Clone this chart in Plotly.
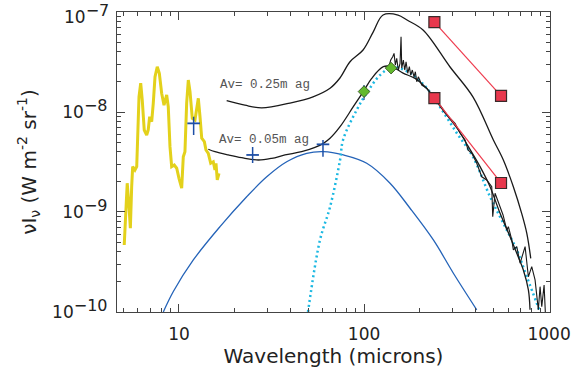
import numpy as np
import plotly.graph_objects as go

# yellow mid-IR spectrum
spec_wl = [5.06, 5.11, 5.25, 5.37, 5.46, 5.55, 5.62, 5.78, 5.91, 6.08, 6.21, 6.33, 6.49, 6.69, 6.82,
           6.94, 7.12, 7.26, 7.42, 7.63, 7.83, 8.06, 8.30, 8.58, 8.75, 8.94, 9.13, 9.43, 9.72, 10.0,
           10.34, 10.55, 10.77, 11.0, 11.23, 11.47, 11.80, 12.2, 12.46, 12.72, 12.99, 13.27, 13.71,
           13.99, 14.40, 14.84, 15.32, 15.65, 15.85, 16.1, 16.45]
spec_flux = [4.68e-10, 7.13e-10, 1.94e-9, 1.13e-9, 6.87e-10, 1.79e-9, 2.84e-9, 2.63e-9, 2.84e-9,
             1.42e-8, 1.94e-8, 1.32e-8, 6.61e-9, 5.89e-9, 6.61e-9, 8.97e-9, 8.0e-9, 1.22e-8, 2.25e-8,
             2.84e-8, 2.44e-8, 1.54e-8, 1.17e-8, 1.48e-8, 1.13e-8, 4.5e-9, 2.84e-9, 2.95e-9, 2.74e-9,
             2.17e-9, 1.73e-9, 3.57e-9, 4.01e-9, 1.22e-8, 2.09e-8, 1.6e-8, 8.65e-9, 8.32e-9, 1.13e-8,
             1.37e-8, 8.97e-9, 5.46e-9, 5.05e-9, 4.17e-9, 3.86e-9, 3.07e-9, 3.18e-9, 2.63e-9, 3.07e-9,
             2.09e-9, 2.44e-9]

# model Av=0.25 mag
m25_wl = [18.1, 22.7, 28.0, 39.8, 53.0, 65.5, 74.1, 84.0, 98.8, 112, 126.7, 152.7, 170.8, 208.4,
          291.7, 388.4, 500, 566, 641, 711, 758, 796]
m25_flux = [1.30e-8, 1.17e-8, 1.10e-8, 1.23e-8, 1.42e-8, 1.73e-8, 2.19e-8, 3.18e-8, 4.17e-8, 6.3e-8,
            9.33e-8, 9.33e-8, 8.32e-8, 6.61e-8, 2.82e-8, 1.41e-8, 5.25e-9, 3.31e-9, 1.79e-9, 9.7e-10,
            6.12e-10, 3.44e-10]

# model Av=0.05 mag
m05_wl = [14.4, 15.65, 18.48, 21.83, 26.83, 31.7, 37.4, 46.0, 54.3, 60.3, 65.5, 74.2, 87.5, 99.1,
          110, 127.2, 141.2, 162.5, 188.7, 213.6, 242, 285.6, 323.4, 366.3, 423.6, 479.8, 543.4,
          615.5, 669, 726, 773, 789]
m05_flux = [4.24e-9, 4.01e-9, 3.72e-9, 3.49e-9, 3.31e-9, 3.44e-9, 3.72e-9, 4.01e-9, 4.43e-9, 4.86e-9,
            5.46e-9, 7.13e-9, 1.13e-8, 1.60e-8, 2.17e-8, 2.84e-8, 2.84e-8, 2.45e-8, 2.17e-8, 1.79e-8,
            1.37e-8, 8.97e-9, 6.61e-9, 4.5e-9, 2.84e-9, 1.79e-9, 9.7e-10, 5.66e-10, 3.86e-10,
            2.63e-10, 1.66e-10, 1.05e-10]

# big grain (dotted cyan)
bg_wl = [49.8, 57.8, 65.5, 74.2, 77.0, 91.3, 103.4, 122, 141.2, 150.7, 184, 218, 257.6, 317, 388,
         479.8, 566, 669, 758, 894]
bg_flux = [1e-10, 5.25e-10, 1.12e-9, 3.31e-9, 5.25e-9, 1.05e-8, 1.55e-8, 2.34e-8, 2.82e-8, 2.82e-8,
           2.34e-8, 1.74e-8, 1.12e-8, 6.17e-9, 3.55e-9, 1.42e-9, 7.7e-10, 4.17e-10, 2.25e-10, 1.0e-10]

# very small grain (blue)
vsg_wl = [8.23, 9.32, 11.95, 16.66, 23.22, 29.8, 38.2, 49.0, 60.3, 77.3, 103.4, 138.2, 177.3, 237,
          304, 406.6]
vsg_flux = [1.0e-10, 1.6e-10, 3.31e-10, 7.13e-10, 1.42e-9, 2.25e-9, 3.18e-9, 3.86e-9, 4.01e-9,
            3.72e-9, 3.07e-9, 1.94e-9, 1.09e-9, 5.25e-10, 2.44e-10, 1.05e-10]

# far-IR spectrum (noisy black)
fir_wl = [135.3, 139.4, 142.9, 145.3, 147.6, 150.2, 153.2, 156.5, 158.5, 159.9, 163.1, 166, 168.7,
          172.3, 175.8, 178.8, 182.4, 186.3, 189.4, 192.7, 196.6, 205.1, 218.3, 232.3, 274, 310.4,
          330, 351.6, 365, 382.1, 406.6, 432.7, 460.4, 490, 496, 510.7, 543.4, 564, 590.6, 602.6,
          628.6, 641.2, 669, 697, 742, 773, 806, 840, 875, 894, 913, 940, 964]
fir_flux = [2.74e-8, 3.31e-8, 3.57e-8, 3.86e-8, 2.95e-8, 3.44e-8, 2.63e-8, 3.07e-8, 5.66e-8, 2.74e-8,
            3.31e-8, 2.63e-8, 3.18e-8, 2.44e-8, 2.84e-8, 2.34e-8, 2.63e-8, 2.25e-8, 2.53e-8, 2.01e-8,
            2.25e-8, 1.86e-8, 1.73e-8, 1.48e-8, 9.77e-9, 7.7e-9, 6.17e-9, 5.25e-9, 4.17e-9, 3.86e-9,
            3.07e-9, 2.25e-9, 2.09e-9, 1.79e-9, 8.97e-10, 1.54e-9, 1.13e-9, 9.33e-10, 6.61e-10,
            7.13e-10, 5.25e-10, 4.17e-10, 4.5e-10, 3.07e-10, 4.5e-10, 2.25e-10, 2.84e-10, 2.09e-10,
            1.05e-10, 1.79e-10, 1.13e-10, 1.86e-10, 6.6e-11]

# IRAS points
iras_wl = [12, 25, 60]
iras_flux = [7.7e-9, 3.72e-9, 4.75e-9]
iras_hi = [8.97e-9, 4.47e-9, 5.25e-9]
iras_lo = [5.89e-9, 3.09e-9, 3.57e-9]

# DIRBE points
dirbe_wl = [100, 140]
dirbe_flux = [1.6e-8, 2.75e-8]
dirbe_hi = [1.86e-8, 3.0e-8]
dirbe_lo = [1.32e-8, 2.5e-8]

# submm pairs
sq_wl = [240, 550]
sq_high = [7.94e-8, 1.45e-8]
sq_low = [1.38e-8, 1.95e-9]

fig = go.Figure()

fig.add_trace(go.Scatter(x=spec_wl, y=spec_flux, mode="lines",
                         line=dict(color="#E3D11B", width=3)))
fig.add_trace(go.Scatter(x=vsg_wl, y=vsg_flux, mode="lines", line_shape="spline",
                         line=dict(color="#2463B8", width=1.3)))
fig.add_trace(go.Scatter(x=bg_wl, y=bg_flux, mode="lines", line_shape="spline",
                         line=dict(color="#1BB8E2", width=2.5, dash="2px,3px")))
fig.add_trace(go.Scatter(x=m25_wl, y=m25_flux, mode="lines", line_shape="spline",
                         line=dict(color="#1a1a1a", width=1.3)))
fig.add_trace(go.Scatter(x=m05_wl, y=m05_flux, mode="lines", line_shape="spline",
                         line=dict(color="#1a1a1a", width=1.3)))
fig.add_trace(go.Scatter(x=fir_wl, y=fir_flux, mode="lines",
                         line=dict(color="#1a1a1a", width=1.1)))

fig.add_trace(go.Scatter(
    x=iras_wl, y=iras_flux, mode="markers",
    marker=dict(symbol="line-ew", size=9, line=dict(color="#1E4FA6", width=1.8)),
    error_y=dict(type="data", symmetric=False,
                 array=[h - f for h, f in zip(iras_hi, iras_flux)],
                 arrayminus=[f - l for f, l in zip(iras_flux, iras_lo)],
                 color="#1E4FA6", thickness=1.5, width=0)))
fig.add_trace(go.Scatter(
    x=dirbe_wl, y=dirbe_flux, mode="markers",
    marker=dict(symbol="diamond", size=9, color="#62B92E", line=dict(color="#2d4a1a", width=0.8)),
    error_y=dict(type="data", symmetric=False,
                 array=[h - f for h, f in zip(dirbe_hi, dirbe_flux)],
                 arrayminus=[f - l for f, l in zip(dirbe_flux, dirbe_lo)],
                 color="#2E5DA8", thickness=1.3, width=0)))

for ys in (sq_high, sq_low):
    fig.add_trace(go.Scatter(
        x=sq_wl, y=ys, mode="lines+markers",
        line=dict(color="#EE3B4E", width=1.2),
        marker=dict(symbol="square", size=11, color="#E8384D", line=dict(color="#3a2a2a", width=1.2))))

fig.add_annotation(x=1.211, y=-7.73, xref="x", yref="y", text="Av= 0.25m ag", showarrow=False,
                   xanchor="left", yanchor="middle",
                   font=dict(family="Liberation Mono", size=12.5, color="#555555"))
fig.add_annotation(x=1.206, y=-8.28, xref="x", yref="y", text="Av= 0.05m ag", showarrow=False,
                   xanchor="left", yanchor="middle",
                   font=dict(family="Liberation Mono", size=12.5, color="#555555"))

x_minor = [v * d for d in (1, 10, 100) for v in range(2, 10)]
y_minor = [v * d for d in (1e-10, 1e-9, 1e-8) for v in range(2, 10)]

sup = "<sup><span style='font-size:16px'>−{}</span></sup>"

# top label drawn as annotation so it is not clipped at the page edge
fig.add_annotation(x=0, y=1, xref="paper", yref="paper", text="10" + sup.format(7),
                   showarrow=False, xanchor="right", yanchor="top", xshift=-6, yshift=13,
                   font=dict(family="DejaVu Sans", size=17, color="#222222"))

fig.update_xaxes(
    type="log", range=[0.665, 3.005], automargin=False,
    tickvals=[10, 100, 1000], ticktext=["10", "100", "1000"],
    ticks="inside", ticklen=8, tickcolor="#444", tickwidth=1,
    minor=dict(tickvals=x_minor, ticks="inside", ticklen=4, tickcolor="#444", showgrid=False),
    showline=True, linecolor="#444", linewidth=1.2, mirror="ticks",
    showgrid=False, zeroline=False, ticklabelstandoff=6, ticklabeloverflow="allow",
    title=dict(text="Wavelength (microns)", standoff=4),
)
fig.update_yaxes(
    type="log", range=[-10.0005, -6.9995], automargin=False,
    tickvals=[1e-10, 1e-9, 1e-8, 1e-7],
    ticktext=["10" + sup.format(e) for e in (10, 9, 8)] + [""],
    ticks="inside", ticklen=8, tickcolor="#444", tickwidth=1,
    minor=dict(tickvals=y_minor, ticks="inside", ticklen=4, tickcolor="#444", showgrid=False),
    showline=True, linecolor="#444", linewidth=1.2, mirror="ticks",
    showgrid=False, zeroline=False, ticklabelstandoff=5, ticklabeloverflow="allow",
    title=dict(text="νI<sub>ν</sub> (W m<sup>-2</sup> sr<sup>-1</sup>)", standoff=10),
)

fig.update_layout(
    width=583, height=374,
    margin=dict(l=117, r=33, t=12, b=62),
    plot_bgcolor="white", paper_bgcolor="white",
    showlegend=False,
    font=dict(family="DejaVu Sans", size=17, color="#222222"),
)

fig.write_html("out.html", config={"displayModeBar": False},
               post_script="document.body.style.margin='0';")
